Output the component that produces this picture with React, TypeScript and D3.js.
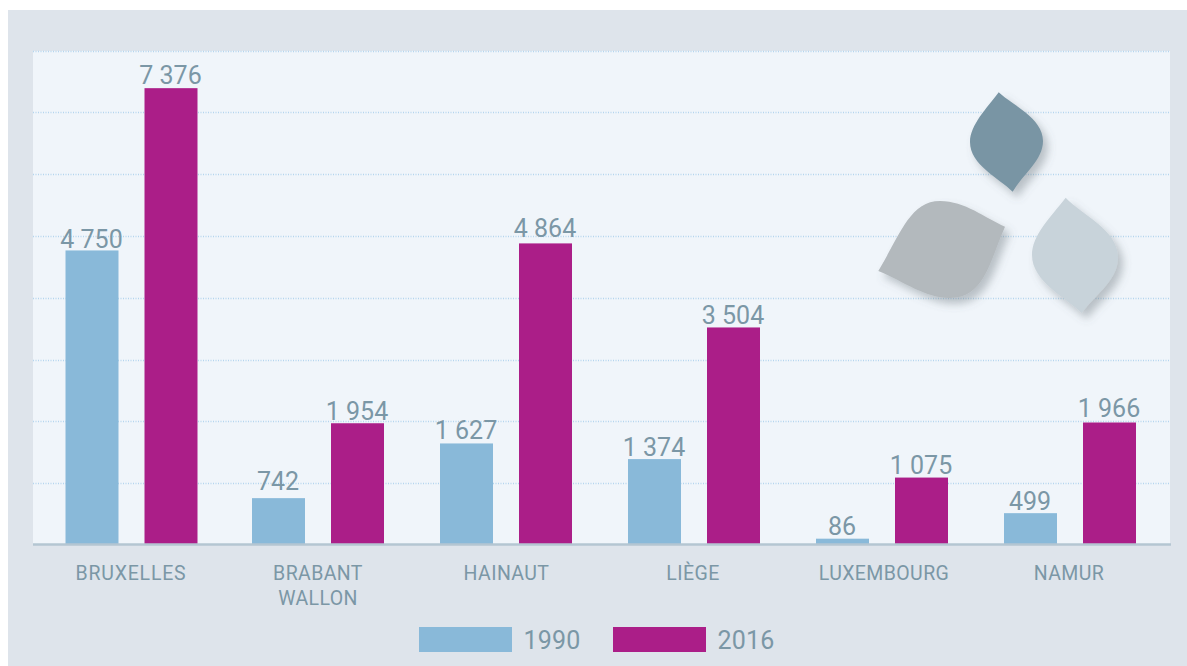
import React from "react";
import * as d3 from "d3";

const categories = [["BRUXELLES"], ["BRABANT", "WALLON"], ["HAINAUT"], ["LIÈGE"], ["LUXEMBOURG"], ["NAMUR"]];
const keys = ["BRUXELLES", "BRABANT WALLON", "HAINAUT", "LIÈGE", "LUXEMBOURG", "NAMUR"];
const values1990 = [4750, 742, 1627, 1374, 86, 499];
const values2016 = [7376, 1954, 4864, 3504, 1075, 1966];
const gridTicks = [1000, 2000, 3000, 4000, 5000, 6000, 7000, 8000];
const seriesNames = ["1990", "2016"];

const BLUE = "#89b9d9";
const MAGENTA = "#ab1e88";
const TEXT = "#7b97a6";
const FONT = "Roboto, sans-serif";

const W = 1187, H = 666;
const y = d3.scaleLinear().domain([0, 8000]).range([544, 49.6]);
const x0 = d3.scaleBand<string>().domain(keys).range([36, 1164]);
const x1 = d3.scaleBand<string>().domain(seriesNames).range([-66, 66]).paddingInner(26 / 79);
const fmt = (v: number) => d3.format(",")(v).replace(/,/g, " ");

// hand-placed label offsets of the original layout
const labelShift1990 = [-1, 5, 1, 0, 0, 0];
const labelShift2016 = [1, 0, 3, 0, 0, 2];
const categoryShift = [-0.5, 0, 0.5, -1, 2, -1];

const leaves = [
  { d: "M998.7 92.3 C1012 105 1043 118 1043 141 C1043 160 1024 173 1012.7 191.7 C999 178 970 165 970 142 C970 125 987 108 998.7 92.3 Z", fill: "#7995a4" },
  { d: "M1005 226.7 C985 218 965 201 940 201 C910 201 900 235 878.3 271 C905 282 925 298 950 298 C985 298 990 260 1005 226.7 Z", fill: "#b3b9bd" },
  { d: "M1065.7 197.7 C1082 215 1118 230 1118 257 C1118 280 1098 292 1081.7 313 C1067 298 1032 282 1032 255 C1032 235 1050 218 1065.7 197.7 Z", fill: "#c8d3da" },
];

export default function App() {
  return (
    <svg width={W} height={H} style={{ position: "absolute", left: 0, top: 0, display: "block" }} fontFamily={FONT}>
      <defs>
        <filter id="sh" x="-30%" y="-30%" width="170%" height="170%">
          <feDropShadow dx="5" dy="6" stdDeviation="4.5" floodColor="#5f6a70" floodOpacity="0.38" />
        </filter>
      </defs>
      <rect x={8} y={10} width={1179} height={656} fill="#dee4eb" />
      <rect x={33} y={51} width={1137} height={493} fill="#f0f5fa" />
      {gridTicks.map((t) => (
        <line key={t} x1={33} x2={1170} y1={Math.round(y(t)) + 1.5} y2={Math.round(y(t)) + 1.5} stroke="#b4d5ee" strokeWidth={1.3} strokeDasharray="1 1.5" />
      ))}
      {leaves.map((l, i) => (
        <path key={i} d={l.d} fill={l.fill} filter="url(#sh)" />
      ))}
      {keys.map((k, i) => {
        const c = x0(k)! + x0.bandwidth() / 2 + (i === 0 ? 1.5 : 0);
        return (
          <g key={k}>
            {[values1990[i], values2016[i]].map((v, j) => {
              const bx = c + x1(seriesNames[j])!;
              const shift = (j ? labelShift2016 : labelShift1990)[i];
              return (
                <g key={j}>
                  <rect x={bx} y={y(v)} width={x1.bandwidth()} height={y(0) - y(v)} fill={j ? MAGENTA : BLUE} />
                  <text x={bx + x1.bandwidth() / 2 - 0.5} y={y(v) - 3.5 - shift} textAnchor="middle" fontSize={25} fill={TEXT}>{fmt(v)}</text>
                </g>
              );
            })}
            {categories[i].map((line, li) => (
              <text key={li} x={c + categoryShift[i]} y={580 + li * 25} textAnchor="middle" fontSize={19.5} letterSpacing={i === 0 ? 0.8 : 0.4} fill={TEXT}>{line}</text>
            ))}
          </g>
        );
      })}
      <line x1={33} x2={1171} y1={544.5} y2={544.5} stroke="#b4c6d2" strokeWidth={2.4} />
      {seriesNames.map((s, i) => {
        const lx = i ? 613 : 419;
        return (
          <g key={s}>
            <rect x={lx} y={627} width={93} height={25} fill={i ? MAGENTA : BLUE} />
            <text x={lx + 104.5} y={648.5} fontSize={25} letterSpacing={0.2} fill={TEXT}>{s}</text>
          </g>
        );
      })}
    </svg>
  );
}
